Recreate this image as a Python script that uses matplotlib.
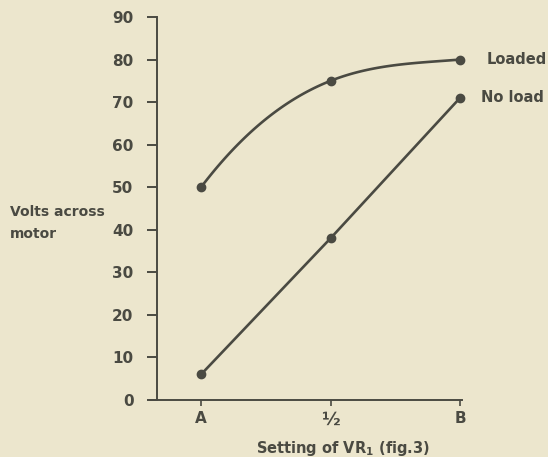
import numpy as np
import matplotlib
matplotlib.use("Agg")
import matplotlib.pyplot as plt

# ---- data ----
settings = ["A", "½", "B"]
loaded = [50, 75, 80]
no_load = [6, 38, 71]
y_ticks = [0, 10, 20, 30, 40, 50, 60, 70, 80, 90]

bg = "#ece6cd"
ink = "#4a4a42"

plt.rcParams['font.family'] = ['DejaVu Sans']
plt.rcParams['font.weight'] = 'bold'

fig = plt.figure(figsize=(5.48, 4.57), dpi=100, facecolor=bg)
ax = fig.add_axes([150/548, 57/457, (462-150)/548, (400-17)/457])
ax.set_facecolor(bg)

x = np.arange(len(settings))

# smooth curve for loaded (cubic Hermite through the measured points)
slopes = [40.0, 12.0, 2.5]
xs_all, ys_all = [], []
for i in range(len(x) - 1):
    t = np.linspace(0, 1, 40)
    h = x[i+1] - x[i]
    h00 = 2*t**3 - 3*t**2 + 1
    h10 = t**3 - 2*t**2 + t
    h01 = -2*t**3 + 3*t**2
    h11 = t**3 - t**2
    yy = h00*loaded[i] + h10*h*slopes[i] + h01*loaded[i+1] + h11*h*slopes[i+1]
    xs_all.append(x[i] + t*h)
    ys_all.append(yy)
ax.plot(np.concatenate(xs_all), np.concatenate(ys_all), color=ink, lw=1.9,
        solid_capstyle='round', clip_on=False)
ax.plot(x, loaded, 'o', color=ink, ms=6, clip_on=False)

ax.plot(x, no_load, '-o', color=ink, lw=1.9, ms=6, clip_on=False)

ax.set_xlim(-0.394, 2.015)
ax.set_ylim(0, 90)
ax.spines['left'].set_position(('data', -0.34))
for s in ['top', 'right']:
    ax.spines[s].set_visible(False)
for s in ['left', 'bottom']:
    ax.spines[s].set_color(ink)
    ax.spines[s].set_linewidth(1.4)

ax.set_xticks(x)
ax.set_xticklabels(settings)
ax.set_yticks(y_ticks)
ax.set_yticklabels([str(v) for v in y_ticks])
ax.tick_params(axis='y', direction='out', length=7, width=1.4, color=ink,
               pad=10, labelsize=11, labelcolor=ink)
ax.tick_params(axis='x', direction='out', length=4, width=1.2, color=ink,
               pad=4, labelsize=11, labelcolor=ink)
ax.get_xticklabels()[1].set_fontsize(13)

ax.annotate("Loaded", xy=(2, loaded[2]), xytext=(19, 0), textcoords='offset points',
            va='center', ha='left', fontsize=10.5, color=ink, annotation_clip=False)
ax.annotate("No load", xy=(2, no_load[2]), xytext=(15, 0), textcoords='offset points',
            va='center', ha='left', fontsize=10.5, color=ink, annotation_clip=False)

fig.text(10/548, 1 - 223/457, "Volts across\nmotor", ha='left', va='center',
         fontsize=10, color=ink, linespacing=1.65)
fig.text(343/548, 1 - 448/457, "Setting of VR$_{\\mathregular{1}}$ (fig.3)",
         ha='center', va='center', fontsize=10.5, color=ink)

fig.savefig("out.png", dpi=100, facecolor=bg)
